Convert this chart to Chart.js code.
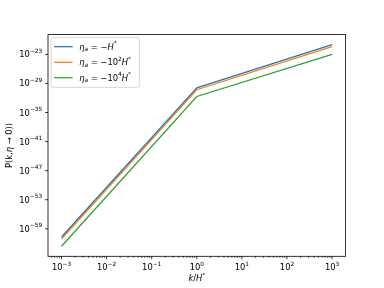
<!DOCTYPE html>
<html>
<head>
<meta charset="utf-8">
<script src="https://cdn.jsdelivr.net/npm/chart.js@4"></script>
<style>
  html, body { margin: 0; padding: 0; background: #fff; }
</style>
</head>
<body>
<canvas id="chart" width="384" height="288"></canvas>
<script>
// k / H* sample points
const kValues = [1e-3, 1, 1e3];
// log10 of P(k, eta -> 0)
const logP_H = [-60.7, -29.9, -21.0];
const logP_1e2H = [-61.1, -30.3, -21.4];
const logP_1e4H = [-62.6, -31.7, -23.0];
const seriesLabels = ['η_a = −H*', 'η_a = −10²H*', 'η_a = −10⁴H*'];
const etaPowers = ['', '2', '4'];
const xTickExps = [-3, -2, -1, 0, 1, 2, 3];
const yTickExps = [-59, -53, -47, -41, -35, -29, -23];
const colors = ['#1f77b4', '#ff7f0e', '#2ca02c'];

const FONT = '"DejaVu Sans"';
const FS = 8.33;

// matplotlib-like margins on the y data
const allLog = [...logP_H, ...logP_1e2H, ...logP_1e4H];
const lo = Math.min(...allLog), hi = Math.max(...allLog);
const pad = (hi - lo) * 0.05;

const expText = (e) => String(e).replace('-', '−');

// mixed upright / italic / sub / sup text, y is the baseline
function drawRich(ctx, parts, x, y, align) {
  let w = 0;
  const items = parts.map(p => {
    const size = p.s ? FS * 0.7 : FS;
    const font = (p.i ? 'italic ' : '') + size + 'px ' + FONT;
    ctx.font = font;
    const tw = ctx.measureText(p.t).width;
    w += tw;
    return { p, font, tw };
  });
  let cx = x;
  if (align === 'center') cx = x - w / 2;
  if (align === 'right') cx = x - w;
  ctx.textAlign = 'left';
  ctx.textBaseline = 'alphabetic';
  items.forEach(({ p, font, tw }) => {
    ctx.font = font;
    let dy = 0;
    if (p.s === 'sup') dy = -FS * 0.52;
    if (p.s === 'sub') dy = FS * 0.18;
    ctx.fillText(p.t, cx, y + dy);
    cx += tw;
  });
}

const decor = {
  id: 'decor',
  afterDraw(chart) {
    const ctx = chart.ctx;
    const a = chart.chartArea;
    const xs = chart.scales.x, ys = chart.scales.y;
    ctx.save();
    ctx.strokeStyle = '#000';
    ctx.fillStyle = '#000';

    // frame
    ctx.lineWidth = 0.8;
    ctx.strokeRect(a.left, a.top, a.right - a.left, a.bottom - a.top);

    // x ticks (major + minor)
    for (let e = -4; e <= 3; e++) {
      for (let m = 1; m <= 9; m++) {
        const v = m * Math.pow(10, e);
        if (v < xs.min || v > xs.max) continue;
        const px = xs.getPixelForValue(v);
        ctx.lineWidth = m === 1 ? 0.8 : 0.6;
        ctx.beginPath();
        ctx.moveTo(px, a.bottom);
        ctx.lineTo(px, a.bottom + (m === 1 ? 2.9 : 1.7));
        ctx.stroke();
      }
    }
    // x tick labels
    xTickExps.forEach(e => {
      const px = xs.getPixelForValue(Math.pow(10, e));
      drawRich(ctx, [{ t: '10' }, { t: expText(e), s: 'sup' }], px, 270, 'center');
    });
    // y ticks and labels
    ctx.lineWidth = 0.8;
    yTickExps.forEach(e => {
      const py = ys.getPixelForValue(Math.pow(10, e));
      ctx.beginPath();
      ctx.moveTo(a.left, py);
      ctx.lineTo(a.left - 2.9, py);
      ctx.stroke();
      drawRich(ctx, [{ t: '10' }, { t: expText(e), s: 'sup' }], a.left - 5.8, py + 3, 'right');
    });

    // axis titles
    drawRich(ctx, [{ t: 'k', i: 1 }, { t: '/' }, { t: 'H', i: 1 }, { t: '*', s: 'sup' }],
      (a.left + a.right) / 2, 281, 'center');
    ctx.save();
    ctx.translate(12, (a.top + a.bottom) / 2);
    ctx.rotate(-Math.PI / 2);
    drawRich(ctx, [{ t: 'P(k,' }, { t: 'η', i: 1 }, { t: ' → 0))' }], 0, 0, 'center');
    ctx.restore();

    // legend
    const lx = 51, ly = 37.7, lw = 88.3, lh = 49.6, r = 1.7;
    ctx.beginPath();
    ctx.moveTo(lx + r, ly);
    ctx.arcTo(lx + lw, ly, lx + lw, ly + lh, r);
    ctx.arcTo(lx + lw, ly + lh, lx, ly + lh, r);
    ctx.arcTo(lx, ly + lh, lx, ly, r);
    ctx.arcTo(lx, ly, lx + lw, ly, r);
    ctx.closePath();
    ctx.fillStyle = 'rgba(255,255,255,0.8)';
    ctx.fill();
    ctx.strokeStyle = '#cccccc';
    ctx.lineWidth = 0.8;
    ctx.stroke();

    const rows = [46.7, 62.3, 77.7];
    chart.data.datasets.forEach((ds, i) => {
      ctx.strokeStyle = ds.borderColor;
      ctx.lineWidth = 1.25;
      ctx.beginPath();
      ctx.moveTo(54, rows[i]);
      ctx.lineTo(72.7, rows[i]);
      ctx.stroke();
      ctx.fillStyle = '#000';
      const parts = [{ t: 'η', i: 1 }, { t: 'a', i: 1, s: 'sub' }, { t: ' = −' }];
      if (etaPowers[i]) {
        parts.push({ t: '10' }, { t: etaPowers[i], s: 'sup' });
      }
      parts.push({ t: 'H', i: 1 }, { t: '*', s: 'sup' });
      drawRich(ctx, parts, 79.3, rows[i] + 3, 'left');
    });
    ctx.restore();
  }
};

new Chart(document.getElementById('chart'), {
  type: 'line',
  data: {
    datasets: [logP_H, logP_1e2H, logP_1e4H].map((arr, i) => ({
      label: seriesLabels[i],
      data: kValues.map((k, j) => ({ x: k, y: Math.pow(10, arr[j]) })),
      borderColor: colors[i],
      backgroundColor: colors[i],
      borderWidth: 1.25,
      pointRadius: 0,
      tension: 0,
      fill: false,
    })),
  },
  options: {
    responsive: false,
    animation: false,
    layout: { padding: { left: 0, right: 38.4, top: 34.6, bottom: 0 } },
    plugins: { legend: { display: false }, tooltip: { enabled: false } },
    scales: {
      x: {
        type: 'logarithmic',
        min: Math.pow(10, -3.3),
        max: Math.pow(10, 3.3),
        afterFit: (s) => { s.height = 31.7; },
        afterBuildTicks: (s) => { s.ticks = xTickExps.map(e => ({ value: Math.pow(10, e) })); },
        grid: { display: false },
        border: { display: false },
        ticks: { display: false },
      },
      y: {
        type: 'logarithmic',
        min: Math.pow(10, lo - pad),
        max: Math.pow(10, hi + pad),
        afterFit: (s) => { s.width = 48; },
        afterBuildTicks: (s) => { s.ticks = yTickExps.map(e => ({ value: Math.pow(10, e) })); },
        grid: { display: false },
        border: { display: false },
        ticks: { display: false },
      },
    },
  },
  plugins: [decor],
});
</script>
</body>
</html>
